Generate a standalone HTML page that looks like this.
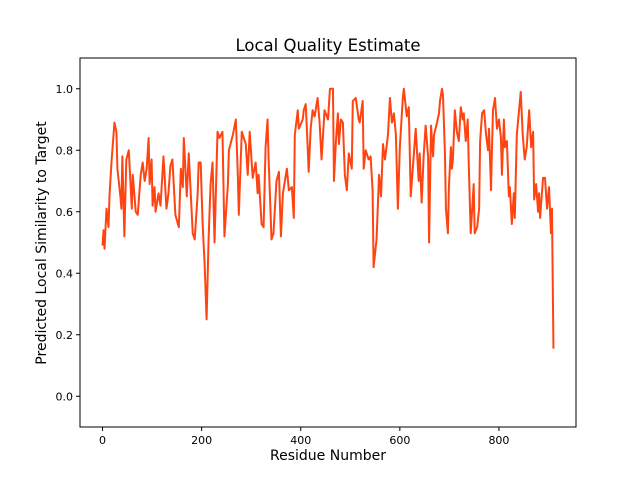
<!DOCTYPE html>
<html><head><meta charset="utf-8"><style>
html,body{margin:0;padding:0;background:#fff;}
svg{display:block;font-family:"DejaVu Sans","Liberation Sans",sans-serif;}
</style></head><body>
<svg id="chart" width="640" height="480" viewBox="0 0 640 480" xmlns="http://www.w3.org/2000/svg">
<rect x="0" y="0" width="640" height="480" fill="#fff"/>
<g id="plot"></g>
<rect x="80" y="58" width="496" height="369" fill="none" stroke="#000" stroke-width="1"/>
<g id="xticks"></g>
<g id="yticks"></g>
<text x="328" y="51" text-anchor="middle" font-size="16.5">Local Quality Estimate</text>
<text x="328" y="460" text-anchor="middle" font-size="14">Residue Number</text>
<text transform="translate(46,243) rotate(-90)" text-anchor="middle" font-size="14">Predicted Local Similarity to Target</text>
</svg>
<script>
const residues=[0,2,4,8,12,14,18,24,28,30,36,38,40,44,48,53,59,61,67,71,77,81,85,89,93,95,99,101,105,107,113,117,123,129,133,137,141,147,154,158,162,164,170,174,182,186,192,194,198,202,206,210,214,218,222,226,232,236,242,246,253,255,263,269,273,275,281,289,293,297,303,309,313,315,321,325,329,333,335,341,345,351,356,360,364,372,376,382,386,388,394,396,404,406,410,414,416,420,424,428,434,438,442,448,455,459,465,467,471,475,477,481,485,489,493,497,503,505,511,517,519,525,527,531,537,541,545,547,553,558,562,566,570,576,580,584,588,592,596,600,606,608,614,618,622,632,638,640,644,648,652,657,659,663,667,669,675,679,681,685,687,691,693,697,699,703,705,707,711,715,719,723,727,729,733,737,739,743,749,751,756,760,762,766,770,774,778,780,784,786,788,792,796,800,804,806,810,812,816,820,822,826,830,832,836,840,844,846,848,852,856,861,865,869,871,875,879,881,883,889,893,897,901,905,907,910];
const scores=[0.49,0.54,0.48,0.61,0.55,0.65,0.76,0.89,0.86,0.74,0.65,0.61,0.78,0.52,0.77,0.80,0.61,0.72,0.60,0.59,0.72,0.76,0.70,0.74,0.84,0.69,0.77,0.62,0.68,0.60,0.66,0.62,0.78,0.61,0.66,0.75,0.77,0.59,0.55,0.74,0.68,0.84,0.65,0.79,0.53,0.51,0.66,0.76,0.76,0.56,0.43,0.25,0.51,0.69,0.76,0.50,0.86,0.84,0.86,0.52,0.69,0.80,0.85,0.90,0.72,0.59,0.86,0.82,0.72,0.86,0.71,0.76,0.66,0.72,0.56,0.55,0.81,0.90,0.78,0.51,0.53,0.70,0.73,0.52,0.66,0.74,0.67,0.68,0.58,0.85,0.93,0.87,0.90,0.93,0.95,0.81,0.73,0.87,0.93,0.91,0.97,0.89,0.77,0.93,0.90,1.00,1.00,0.70,0.83,0.92,0.82,0.90,0.89,0.72,0.67,0.79,0.74,0.96,0.97,0.90,0.89,0.96,0.74,0.80,0.77,0.78,0.67,0.42,0.51,0.72,0.65,0.82,0.77,0.85,0.97,0.89,0.92,0.85,0.61,0.81,0.97,1.00,0.91,0.94,0.65,0.87,0.70,0.79,0.63,0.78,0.88,0.78,0.50,0.88,0.78,0.85,0.89,0.92,0.96,1.00,0.98,0.79,0.61,0.53,0.68,0.81,0.74,0.77,0.93,0.86,0.83,0.94,0.90,0.92,0.83,0.90,0.76,0.53,0.69,0.53,0.55,0.61,0.83,0.92,0.93,0.85,0.80,0.87,0.67,0.81,0.93,0.97,0.87,0.90,0.84,0.72,0.90,0.81,0.83,0.65,0.68,0.56,0.66,0.58,0.85,0.92,0.99,0.92,0.85,0.77,0.81,0.93,0.81,0.86,0.64,0.69,0.60,0.66,0.58,0.71,0.71,0.61,0.68,0.53,0.61,0.155];
const xTicks=[0,200,400,600,800];
const yTicks=[0.0,0.2,0.4,0.6,0.8,1.0];
const yTickLabels=["0.0","0.2","0.4","0.6","0.8","1.0"];

const X0=80,X1=576,Y0=58,Y1=427;
const xMin=-45.5,xMax=955.5,yMin=-0.1,yMax=1.1;
function xs(v){return X0+(v-xMin)/(xMax-xMin)*(X1-X0);}
function ys(v){return Y1-(v-yMin)/(yMax-yMin)*(Y1-Y0);}
const NS="http://www.w3.org/2000/svg";
const plot=document.getElementById('plot');
let d="";
for(let i=0;i<residues.length;i++){d+=(i?"L":"M")+xs(residues[i]).toFixed(2)+","+ys(scores[i]).toFixed(2);}
const line=document.createElementNS(NS,'path');
line.setAttribute('d',d);line.setAttribute('fill','none');line.setAttribute('stroke','#ff4412');
line.setAttribute('stroke-width','2');line.setAttribute('stroke-linejoin','round');


plot.appendChild(line);

const xg=document.getElementById('xticks');
xTicks.forEach(t=>{
  const x=xs(t);
  const l=document.createElementNS(NS,'line');
  l.setAttribute('x1',x);l.setAttribute('x2',x);l.setAttribute('y1',Y1);l.setAttribute('y2',Y1+4);l.setAttribute('stroke','#000');
  
  
  xg.appendChild(l);
  const tx=document.createElementNS(NS,'text');
  tx.setAttribute('x',x);tx.setAttribute('y',Y1+17);tx.setAttribute('text-anchor','middle');tx.setAttribute('font-size','11');
  tx.textContent=String(t);
  
  
  xg.appendChild(tx);
});
const yg=document.getElementById('yticks');
yTicks.forEach((t,i)=>{
  const y=ys(t);
  const l=document.createElementNS(NS,'line');
  l.setAttribute('x1',X0-4);l.setAttribute('x2',X0);l.setAttribute('y1',y);l.setAttribute('y2',y);l.setAttribute('stroke','#000');
  
  
  yg.appendChild(l);
  const tx=document.createElementNS(NS,'text');
  tx.setAttribute('x',X0-7);tx.setAttribute('y',y+4);tx.setAttribute('text-anchor','end');tx.setAttribute('font-size','11');
  tx.textContent=yTickLabels[i];
  
  
  yg.appendChild(tx);
});
</script>
</body></html>
